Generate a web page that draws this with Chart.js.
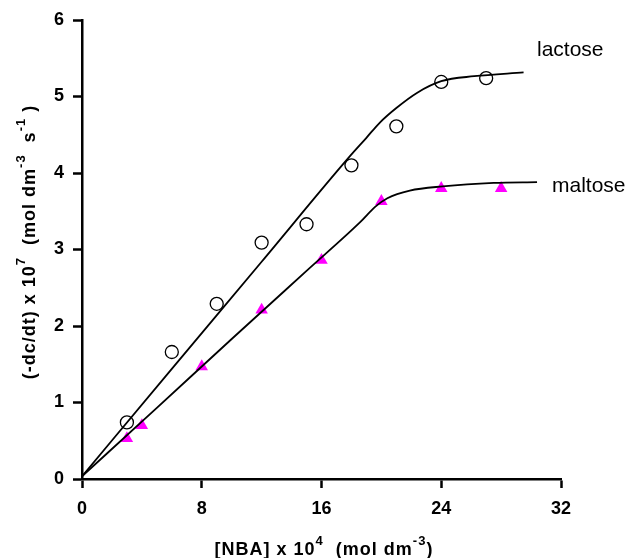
<!DOCTYPE html>
<html>
<head>
<meta charset="utf-8">
<script src="https://cdn.jsdelivr.net/npm/chart.js@4"></script>
<style>
  html, body { margin: 0; padding: 0; background: #fff; }
  #wrap { width: 627px; height: 558px; position: relative; }
</style>
</head>
<body>
<div id="wrap"><canvas id="c"></canvas></div>
<script>
// [NBA] x 10^4 values and rates
const lactoseX = [3, 6, 9, 12, 15, 18, 21, 24, 27];
const lactoseY = [0.74, 1.66, 2.29, 3.09, 3.33, 4.10, 4.61, 5.19, 5.24];
const maltoseX = [3, 4, 8, 12, 16, 20, 24, 28];
const maltoseY = [0.53, 0.70, 1.47, 2.21, 2.86, 3.63, 3.80, 3.80];

// fitted curves
const lactoseFitX = [0, 6, 12, 17.9, 19.0, 19.9, 21.0, 22.4, 24.0, 26.2, 29.5];
const lactoseFitY = [0.035, 1.44, 2.84, 4.22, 4.46, 4.66, 4.85, 5.05, 5.2, 5.265, 5.315];
const maltoseFitX = [0, 5, 10, 15, 18.6, 19.6, 20.4, 21.9, 24.1, 27.5, 30.4];
const maltoseFitY = [0.035, 0.93, 1.83, 2.72, 3.36, 3.56, 3.67, 3.77, 3.825, 3.87, 3.88];

const xTicks = [0, 8, 16, 24, 32];
const yTicks = [0, 1, 2, 3, 4, 5, 6];

const FONT = '"Liberation Sans", Arial, Helvetica, sans-serif';

function pts(xs, ys) {
  return xs.map((x, i) => ({ x: x, y: ys[i] }));
}

// draws text runs with superscripts, centred on (0,0) of the current transform
function drawRuns(ctx, runs, size, supSize, rise) {
  let total = 0;
  runs.forEach(r => {
    ctx.font = 'bold ' + (r[1] ? supSize : size) + 'px ' + FONT;
    total += ctx.measureText(r[0]).width;
  });
  let x = -total / 2;
  ctx.textBaseline = 'alphabetic';
  ctx.textAlign = 'left';
  runs.forEach(r => {
    ctx.font = 'bold ' + (r[1] ? supSize : size) + 'px ' + FONT;
    ctx.fillText(r[0], x, r[1] ? -rise : 0);
    x += ctx.measureText(r[0]).width;
  });
}

const labelsPlugin = {
  id: 'labels',
  afterDraw(chart) {
    const ctx = chart.ctx;
    ctx.save();
    ctx.fillStyle = '#000';
    ctx.letterSpacing = '1px';

    // x axis title
    ctx.save();
    ctx.translate(324, 555);
    drawRuns(ctx, [['[NBA] x 10', 0], ['4', 1], ['  (mol dm', 0], ['-3', 1], [')', 0]], 18, 13, 10);
    ctx.restore();

    // y axis title
    ctx.save();
    ctx.translate(35, 242);
    ctx.rotate(-Math.PI / 2);
    drawRuns(ctx, [['(-dc/dt) x 10', 0], ['7', 1], ['  (mol dm', 0], ['-3', 1], ['  s', 0], ['-1', 1], [' )', 0]], 18, 13, 10);
    ctx.restore();

    // curve labels
    ctx.letterSpacing = '0px';
    ctx.font = '21px ' + FONT;
    ctx.textAlign = 'left';
    ctx.textBaseline = 'middle';
    ctx.fillText('lactose', 537, 50);
    ctx.fillText('maltose', 552, 186);
    ctx.restore();
  }
};

new Chart(document.getElementById('c'), {
  type: 'scatter',
  data: {
    datasets: [
      {
        label: 'lactose fit',
        data: pts(lactoseFitX, lactoseFitY),
        showLine: true,
        borderColor: '#000',
        borderWidth: 1.8,
        pointRadius: 0,
        cubicInterpolationMode: 'monotone'
      },
      {
        label: 'maltose fit',
        data: pts(maltoseFitX, maltoseFitY),
        showLine: true,
        borderColor: '#000',
        borderWidth: 1.8,
        pointRadius: 0,
        cubicInterpolationMode: 'monotone'
      },
      {
        label: 'lactose',
        data: pts(lactoseX, lactoseY),
        pointStyle: 'circle',
        pointRadius: 6.5,
        pointBorderWidth: 1.3,
        pointBorderColor: '#000',
        pointBackgroundColor: 'rgba(0,0,0,0)'
      },
      {
        label: 'maltose',
        data: pts(maltoseX, maltoseY),
        pointStyle: 'triangle',
        pointRadius: 7.2,
        pointBorderWidth: 0,
        pointBorderColor: '#ff00ff',
        pointBackgroundColor: '#ff00ff'
      }
    ]
  },
  options: {
    responsive: true,
    maintainAspectRatio: false,
    animation: false,
    events: [],
    layout: { padding: { left: 0, top: 20, right: 66, bottom: 0 } },
    plugins: {
      legend: { display: false },
      tooltip: { enabled: false }
    },
    scales: {
      x: {
        type: 'linear',
        min: 0,
        max: 32,
        afterFit(scale) { scale.height = 79; },
        afterBuildTicks(scale) { scale.ticks = xTicks.map(v => ({ value: v })); },
        border: { display: true, color: '#000', width: 2.5 },
        grid: { drawOnChartArea: false, drawTicks: true, tickLength: 9, tickColor: '#000', tickWidth: 2.5 },
        ticks: { color: '#000', padding: 10, font: { family: FONT, size: 18, weight: 'bold' } }
      },
      y: {
        type: 'linear',
        min: 0,
        max: 6,
        afterFit(scale) { scale.width = 82; },
        afterBuildTicks(scale) { scale.ticks = yTicks.map(v => ({ value: v })); },
        border: { display: true, color: '#000', width: 2.5 },
        grid: { drawOnChartArea: false, drawTicks: true, tickLength: 9, tickColor: '#000', tickWidth: 2.5 },
        ticks: { color: '#000', padding: 9, font: { family: FONT, size: 18, weight: 'bold' } }
      }
    }
  },
  plugins: [labelsPlugin]
});
</script>
</body>
</html>
